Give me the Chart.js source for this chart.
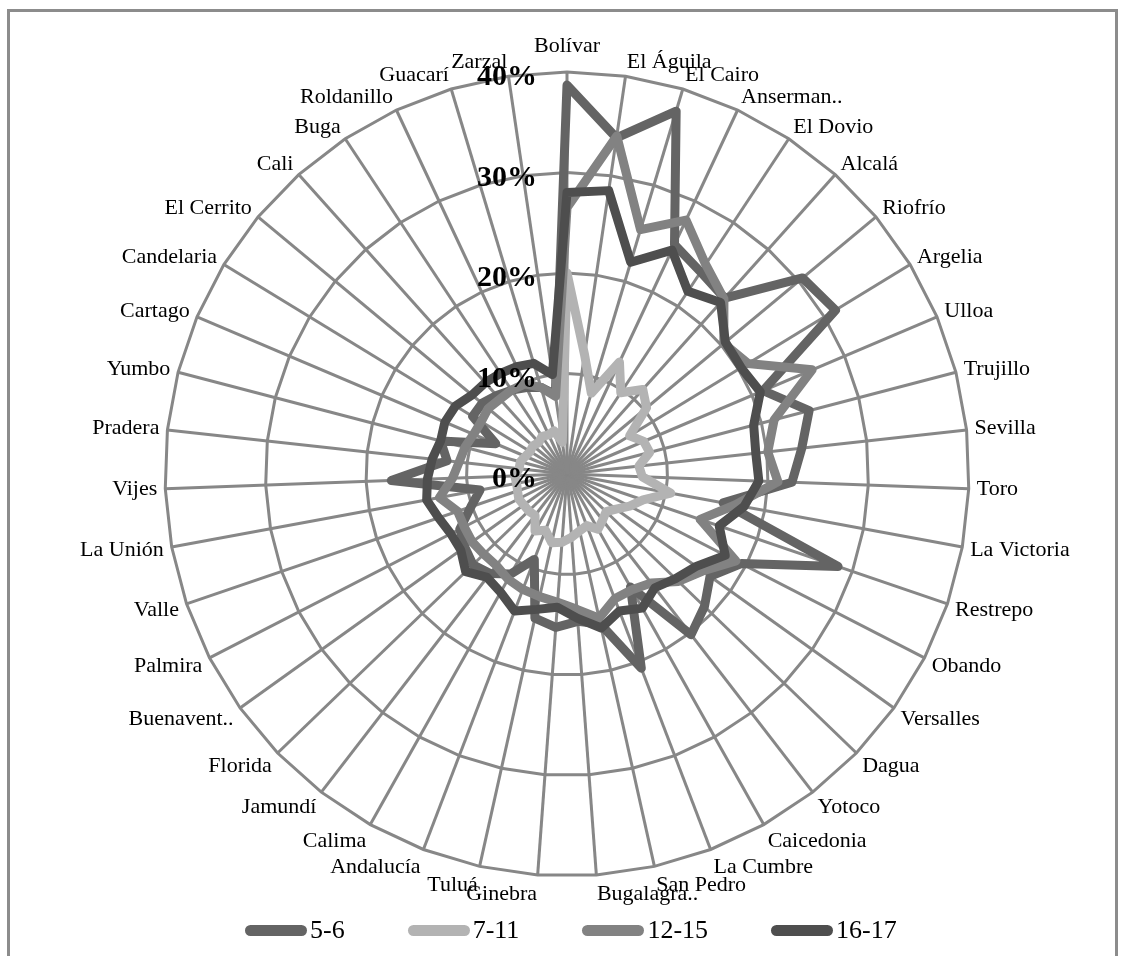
<!DOCTYPE html>
<html>
<head>
<meta charset="utf-8">
<title>Radar por municipio</title>
<script src="https://cdn.jsdelivr.net/npm/chart.js@4.4.1/dist/chart.umd.min.js"></script>
<style>
  html, body { margin: 0; padding: 0; background: #fff; }
  #wrap { position: relative; width: 1122px; height: 956px; overflow: hidden; }
  #frame { position: absolute; left: 7px; top: 9px; width: 1111px; height: 1000px;
           border: 3px solid #8c8c8c; box-sizing: border-box; }
  canvas { position: absolute; left: 0; top: 0; }
  #legend { position: absolute; left: 245px; top: 915px; height: 30px; display: flex;
            align-items: center; font: 26px "Liberation Serif", "Times New Roman", serif; line-height: 30px; }
  .item { display: flex; align-items: center; margin-right: 63px; }
  .swatch { width: 62px; height: 11px; border-radius: 6px; margin-right: 3px; }
</style>
</head>
<body>
<div id="wrap">
  <div id="frame"></div>
  <canvas id="chart" width="1122" height="956"></canvas>
  <div id="legend"></div>
</div>
<script>
// Municipios, clockwise from the top
const categories = [
  'Bolívar', 'El Águila', 'El Cairo', 'Anserman..', 'El Dovio', 'Alcalá', 'Riofrío',
  'Argelia', 'Ulloa', 'Trujillo', 'Sevilla', 'Toro', 'La Victoria', 'Restrepo',
  'Obando', 'Versalles', 'Dagua', 'Yotoco', 'Caicedonia', 'La Cumbre', 'San Pedro',
  'Bugalagra..', 'Ginebra', 'Tuluá', 'Andalucía', 'Calima', 'Jamundí', 'Florida',
  'Buenavent..', 'Palmira', 'Valle', 'La Unión', 'Vijes', 'Pradera', 'Yumbo',
  'Cartago', 'Candelaria', 'El Cerrito', 'Cali', 'Buga', 'Roldanillo', 'Guacarí', 'Zarzal'
];

// Percentage per age group
const share5to6 = [
  38.7, 33.8, 37.7, 25.2, 24.1, 23.5, 30.5, 31.3, 21.2, 24.9, 23.5, 22.4, 15.8, 28.5,
  19.5, 17.5, 19.0, 20.2, 12.9, 20.7, 15.3, 14.7, 15.3, 14.7, 9.1, 11.4, 12.5, 13.0,
  12.5, 12.0, 10.1, 8.8, 17.5, 12.0, 13.0, 7.7, 11.0, 11.0, 10.5, 10.0, 9.5, 9.0, 8.0
];
const share7to11 = [
  20.0, 12.0, 8.4, 12.3, 9.7, 11.3, 10.3, 7.3, 8.3, 8.5, 7.2, 7.5, 10.5, 8.0,
  7.0, 6.0, 5.4, 5.8, 6.3, 5.5, 5.8, 6.3, 6.8, 7.0, 6.0, 6.5, 5.2, 5.3,
  5.3, 5.4, 5.2, 5.1, 5.2, 4.8, 4.8, 4.5, 4.3, 4.4, 4.2, 4.5, 4.3, 4.5, 3.2
];
const share12to15 = [
  26.5, 34.0, 25.4, 27.9, 25.0, 23.4, 20.3, 21.1, 26.5, 21.3, 20.1, 21.0, 17.0, 14.0,
  18.9, 16.6, 15.4, 13.7, 13.2, 13.3, 14.7, 13.5, 12.8, 12.5, 12.3, 12.0, 11.5, 11.5,
  11.6, 11.5, 11.5, 12.9, 11.4, 10.8, 10.5, 10.1, 10.0, 10.2, 10.0, 10.0, 9.9, 9.0, 7.8
];
const share16to17 = [
  28.0, 28.5, 22.0, 24.6, 21.8, 22.9, 20.5, 20.3, 20.9, 19.2, 18.9, 19.1, 17.9, 16.0,
  17.7, 15.8, 15.0, 14.3, 15.3, 14.6, 15.7, 14.4, 13.3, 13.8, 14.6, 13.5, 13.0, 14.0,
  13.0, 13.0, 13.5, 14.2, 13.9, 13.5, 13.0, 13.2, 13.0, 12.3, 12.2, 12.0, 11.8, 11.5, 10.0
];

const seriesNames = ['5-6', '7-11', '12-15', '16-17'];
const seriesColors = ['#646464', '#b3b3b3', '#828282', '#4e4e4e'];
const tickValues = [0, 10, 20, 30, 40];

const gridColor = '#878787';
const labelFont = '22px "Liberation Serif", "Times New Roman", serif';
const tickFont = 'bold 30px "Liberation Serif", "Times New Roman", serif';

// Texts on top of the web: category names around the rim and the % scale
const radarText = {
  id: 'radarText',
  afterDatasetsDraw(chart) {
    const s = chart.scales.r;
    const ctx = chart.ctx;
    ctx.save();
    ctx.fillStyle = '#000';

    ctx.font = labelFont;
    ctx.textBaseline = 'middle';
    categories.forEach((name, i) => {
      const a = s.getIndexAngle(i);
      const sin = Math.sin(a), cos = Math.cos(a);
      const onAxis = Math.abs(sin) < 0.01;
      const p = s.getPointPosition(i, s.drawingArea + (onAxis ? 20 : 8));
      ctx.textAlign = onAxis ? 'center' : (sin > 0 ? 'left' : 'right');
      ctx.fillText(name, p.x, p.y - (cos > 0 ? 6 : 11) * cos);
    });

    ctx.font = tickFont;
    ctx.textAlign = 'right';
    ctx.textBaseline = 'alphabetic';
    tickValues.forEach(v => {
      const y = s.yCenter - s.getDistanceFromCenterForValue(v);
      ctx.fillText(v + '%', s.xCenter - 30, y + 13);
    });
    ctx.restore();
  }
};

const values = [share5to6, share7to11, share12to15, share16to17];

new Chart(document.getElementById('chart'), {
  type: 'radar',
  data: {
    labels: categories,
    datasets: values.map((d, k) => ({
      label: seriesNames[k],
      data: d,
      borderColor: seriesColors[k],
      backgroundColor: seriesColors[k],
      borderWidth: 9,
      order: 4 - k,
      fill: false
    }))
  },
  options: {
    responsive: false,
    animation: false,
    events: [],
    layout: { padding: 0 },
    plugins: { legend: { display: false }, tooltip: { enabled: false } },
    elements: {
      line: { tension: 0, borderJoinStyle: 'round', borderCapStyle: 'round' },
      point: { radius: 0, hoverRadius: 0, hitRadius: 0 }
    },
    scales: {
      r: {
        min: 0,
        max: 40,
        ticks: { stepSize: 10, display: false },
        grid: { color: gridColor, lineWidth: 3 },
        angleLines: { color: gridColor, lineWidth: 3 },
        pointLabels: { display: false },
        afterFit(scale) {
          scale.xCenter = 567;
          scale.yCenter = 474;
          scale.drawingArea = 402;
        }
      }
    }
  },
  plugins: [radarText]
});

// Legend row
const legend = document.getElementById('legend');
seriesNames.forEach((n, k) => {
  const item = document.createElement('div');
  item.className = 'item';
  const sw = document.createElement('span');
  sw.className = 'swatch';
  sw.style.background = seriesColors[k];
  const tx = document.createElement('span');
  tx.textContent = n;
  item.appendChild(sw);
  item.appendChild(tx);
  legend.appendChild(item);
});
</script>
</body>
</html>
